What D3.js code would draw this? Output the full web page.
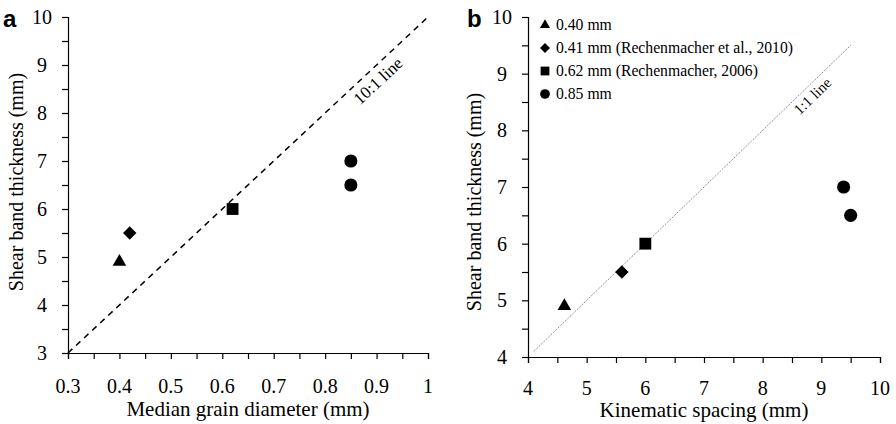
<!DOCTYPE html>
<html><head><meta charset="utf-8">
<script src="https://cdn.jsdelivr.net/npm/d3@7"></script>
<style>
html,body{margin:0;padding:0;background:#fff;}
svg{display:block;}
svg text{font-family:"Liberation Serif","Times New Roman",serif;}
svg text.letter{font-family:"Liberation Sans",Arial,sans-serif;font-weight:bold;}
</style></head>
<body>
<svg id="chart" width="896" height="424"></svg>
<script>
// ---- data ----
const groups = ["0.40 mm", "0.41 mm (Rechenmacher et al., 2010)", "0.62 mm (Rechenmacher, 2006)", "0.85 mm"];
const groupSymbols = ["triangle", "diamond", "square", "circle"];
const pointGroup = [0, 1, 2, 3, 3];
const medianGrain = [0.40, 0.42, 0.62, 0.85, 0.85];
const kinematicSpacing = [4.62, 5.6, 6.0, 9.38, 9.5];
const bandThickness = [4.9, 5.5, 6.0, 7.0, 6.5];
const xTicksA = [0.3, 0.4, 0.5, 0.6, 0.7, 0.8, 0.9, 1];
const yTicksA = [3, 4, 5, 6, 7, 8, 9, 10];
const xTicksB = [4, 5, 6, 7, 8, 9, 10];
const yTicksB = [4, 5, 6, 7, 8, 9, 10];
const lineA = [[0.3, 3], [1, 10]];       // 10:1 line
const lineB = [[4.1, 4.1], [9.5, 9.5]];  // 1:1 line

const svg = d3.select("#chart");

function symbolPath(name, big) {
  const s = big ? 1 : 0.55;
  if (name === "circle") return d3.symbol(d3.symbolCircle, 135 * s)();
  if (name === "square") return d3.symbol(d3.symbolSquare, 140 * s)();
  if (name === "triangle") return d3.symbol(d3.symbolTriangle, 80 * s)();
  return d3.symbol(d3.symbolSquare, 90 * s)();
}
function symbolRot(name) { return name === "diamond" ? 45 : 0; }

function panel(opt) {
  const g = svg.append("g");
  const x = d3.scaleLinear().domain(opt.xDomain).range(opt.xRange);
  const y = d3.scaleLinear().domain(opt.yDomain).range(opt.yRange);

  const xMinor = d3.range(opt.xDomain[0], opt.xDomain[1] + 1e-9, opt.xStep / 2);
  const yMinor = d3.range(opt.yDomain[0], opt.yDomain[1] + 1e-9, opt.yStep / 2);

  const xAxis = g.append("g").attr("transform", `translate(0,${opt.yRange[0]})`)
    .call(d3.axisBottom(x).tickValues(xMinor).tickSize(6).tickFormat(""));
  const yAxis = g.append("g").attr("transform", `translate(${opt.xRange[0]},0)`)
    .call(d3.axisLeft(y).tickValues(yMinor).tickSize(6).tickFormat(""));
  [xAxis, yAxis].forEach(a => {
    a.select(".domain").attr("stroke", "#000").attr("stroke-width", 1.2);
    a.selectAll(".tick line").attr("stroke", "#000").attr("stroke-width", 1.2);
  });

  g.selectAll(".xl").data(opt.xTicks).join("text")
    .attr("x", d => x(d)).attr("y", opt.xLabelY)
    .attr("text-anchor", "middle").attr("font-size", 20)
    .text(d => opt.xFmt(d));
  g.selectAll(".yl").data(opt.yTicks).join("text")
    .attr("x", opt.xRange[0] - 26).attr("y", d => y(d) + 7)
    .attr("text-anchor", "middle").attr("font-size", 20)
    .text(d => d);

  g.append("path")
    .attr("d", d3.line().x(d => x(d[0])).y(d => y(d[1]))(opt.line))
    .attr("fill", "none").attr("stroke", opt.lineColor)
    .attr("stroke-width", opt.lineWidth).attr("stroke-dasharray", opt.dash);

  const lp = opt.lineLabelAt;
  const ang = Math.atan2(y(lp[1] + 1) - y(lp[1]), x(lp[0] + opt.slopeDx) - x(lp[0])) * 180 / Math.PI;
  g.append("text")
    .attr("transform", `translate(${x(lp[0]) + opt.lineLabelOff[0]},${y(lp[1]) + opt.lineLabelOff[1]}) rotate(${ang})`)
    .attr("text-anchor", "middle").attr("font-size", opt.lineLabelSize)
    .text(opt.lineLabel);

  g.selectAll(".pt").data(d3.range(pointGroup.length)).join("path")
    .attr("d", i => symbolPath(groupSymbols[pointGroup[i]], true))
    .attr("transform", i => `translate(${x(opt.xVals[i])},${y(bandThickness[i])}) rotate(${symbolRot(groupSymbols[pointGroup[i]])})`)
    .attr("fill", "#000");

  g.append("text").attr("x", opt.xTitleX).attr("y", opt.xTitleY)
    .attr("text-anchor", "middle").attr("font-size", 21)
    .text(opt.xTitle);
  g.append("text")
    .attr("transform", `translate(${opt.yTitleX},${opt.yTitleCY}) rotate(-90)`)
    .attr("text-anchor", "middle").attr("font-size", 20)
    .text(opt.yTitle);

  g.append("text").attr("class", "letter").attr("x", opt.letterX).attr("y", 27)
    .attr("font-size", 24).text(opt.letter);
  return {x, y, g};
}

panel({
  xDomain: [0.3, 1], yDomain: [3, 10], xRange: [68, 428], yRange: [353, 17],
  xStep: 0.1, yStep: 1, xTicks: xTicksA, yTicks: yTicksA,
  xFmt: d => d === 1 ? "1" : d3.format(".1f")(d), xLabelY: 393,
  line: lineA, lineColor: "#000", lineWidth: 1.5, dash: "6,5",
  lineLabel: "10:1 line", lineLabelSize: 17, lineLabelAt: [0.9105, 9.105], slopeDx: 0.1, lineLabelOff: [0, 25],
  xVals: medianGrain,
  xTitleX: 248, xTitle: "Median grain diameter (mm)", xTitleY: 416,
  yTitle: "Shear band thickness (mm)", yTitleX: 23, yTitleCY: 182,
  letter: "a", letterX: 3
});

panel({
  xDomain: [4, 10], yDomain: [4, 10], xRange: [528, 880], yRange: [357, 17],
  xStep: 1, yStep: 1, xTicks: xTicksB, yTicks: yTicksB,
  xFmt: d => d, xLabelY: 395,
  line: lineB, lineColor: "#777", lineWidth: 1, dash: "1.2,1.2",
  lineLabel: "1:1 line", lineLabelSize: 15, lineLabelAt: [8.91, 8.91], slopeDx: 1, lineLabelOff: [0, 21],
  xVals: kinematicSpacing,
  xTitleX: 704, xTitle: "Kinematic spacing (mm)", xTitleY: 417,
  yTitle: "Shear band thickness (mm)", yTitleX: 481, yTitleCY: 202,
  letter: "b", letterX: 467
});

// legend
const leg = svg.append("g").attr("transform", "translate(545,25)");
const rows = leg.selectAll("g").data(groups).join("g")
  .attr("transform", (d, i) => `translate(0,${i * 23})`);
rows.append("path")
  .attr("d", (d, i) => symbolPath(groupSymbols[i], false))
  .attr("transform", (d, i) => `rotate(${symbolRot(groupSymbols[i])})`)
  .attr("fill", "#000");
rows.append("text").attr("x", 11).attr("y", 5)
  .attr("font-size", 15.7).text(d => d);
</script>
</body></html>
